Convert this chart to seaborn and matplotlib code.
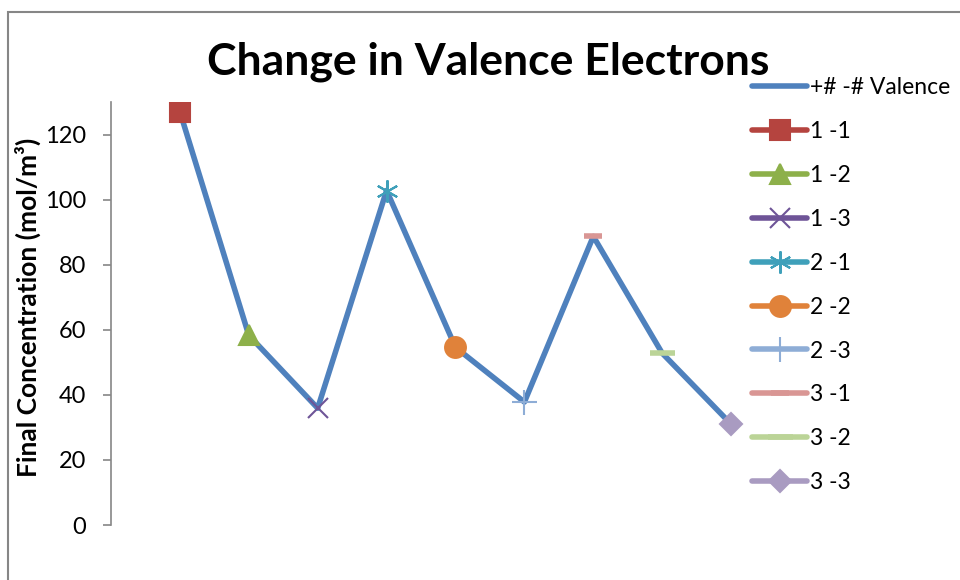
import matplotlib
matplotlib.use("Agg")
import matplotlib.pyplot as plt
import matplotlib.patches as patches
import seaborn as sns
import numpy as np

# datos
pares = ["1 -1", "1 -2", "1 -3", "2 -1", "2 -2", "2 -3", "3 -1", "3 -2", "3 -3"]
concentracion = [127, 58.3, 35.9, 102.8, 54.6, 37.8, 88.7, 52.8, 31.0]
colores = ["#B5443F", "#8DB04A", "#6E5497", "#3FA0BA", "#E0823A",
           "#8EADD6", "#D99694", "#BBD497", "#A99BC1"]
marcadores = ["s", "^", "x", (6, 2, 0), "o", "+", "_", "_", "D"]
tamanos = [14, 14, 14, 16, 15, 18, 13, 18, 11]

sns.set_style("white")
plt.rcParams['font.family'] = ['Lato', 'DejaVu Sans']
plt.rcParams['text.color'] = 'black'
plt.rcParams['axes.labelcolor'] = 'black'
plt.rcParams['ytick.color'] = 'black'

fig = plt.figure(figsize=(9.6, 5.8), dpi=100)
ax = fig.add_axes([111/960, 1 - 525/580, (800-111)/960, (525-102)/580])

x = np.arange(len(pares))
sns.lineplot(x=x, y=concentracion, ax=ax, color="#4F81BD", linewidth=4,
             label="+# -# Valence")

for i in range(len(pares)):
    m = marcadores[i]
    sns.lineplot(x=[x[i]], y=[concentracion[i]], ax=ax, color=colores[i],
                 linewidth=4, marker=m, markersize=tamanos[i],
                 markeredgewidth=1.5 if m not in ["_"] else 4,
                 markeredgecolor=colores[i], label=pares[i])

ax.set_xlim(-1, 9)
ax.set_ylim(0, 130)
ax.set_yticks(range(0, 121, 20))
ax.set_xticks([])
for s in ["top", "right", "bottom"]:
    ax.spines[s].set_visible(False)
ax.spines["left"].set_color("#868686")
ax.spines["left"].set_linewidth(1.2)
ax.tick_params(axis="y", left=True, length=6, width=1.2, color="#868686",
               labelcolor="black", labelsize=17, pad=12)
ax.set_ylabel("Final Concentration (mol/m³)", fontsize=19, fontweight="bold")
ax.yaxis.set_label_coords(-0.1016, 0.515)

leg = ax.legend(loc="upper left", bbox_to_anchor=(752/960, 1 - 77/580),
                bbox_transform=fig.transFigure, frameon=False, fontsize=16.5,
                handlelength=2.4, handletextpad=0.13, labelspacing=1.0,
                borderaxespad=0, borderpad=0)

fig.text(488/960, 1 - 62/580, "Change in Valence Electrons", ha="center",
         va="center", fontsize=32, fontweight="bold", color="black")

# borde exterior del grafico
fig.patches.append(patches.Rectangle((8/960, -0.2), 1.2, 1 - 12/580 + 0.2,
                                     transform=fig.transFigure, fill=False,
                                     edgecolor="#868686", linewidth=1.5))

fig.savefig("out.png", dpi=100)
